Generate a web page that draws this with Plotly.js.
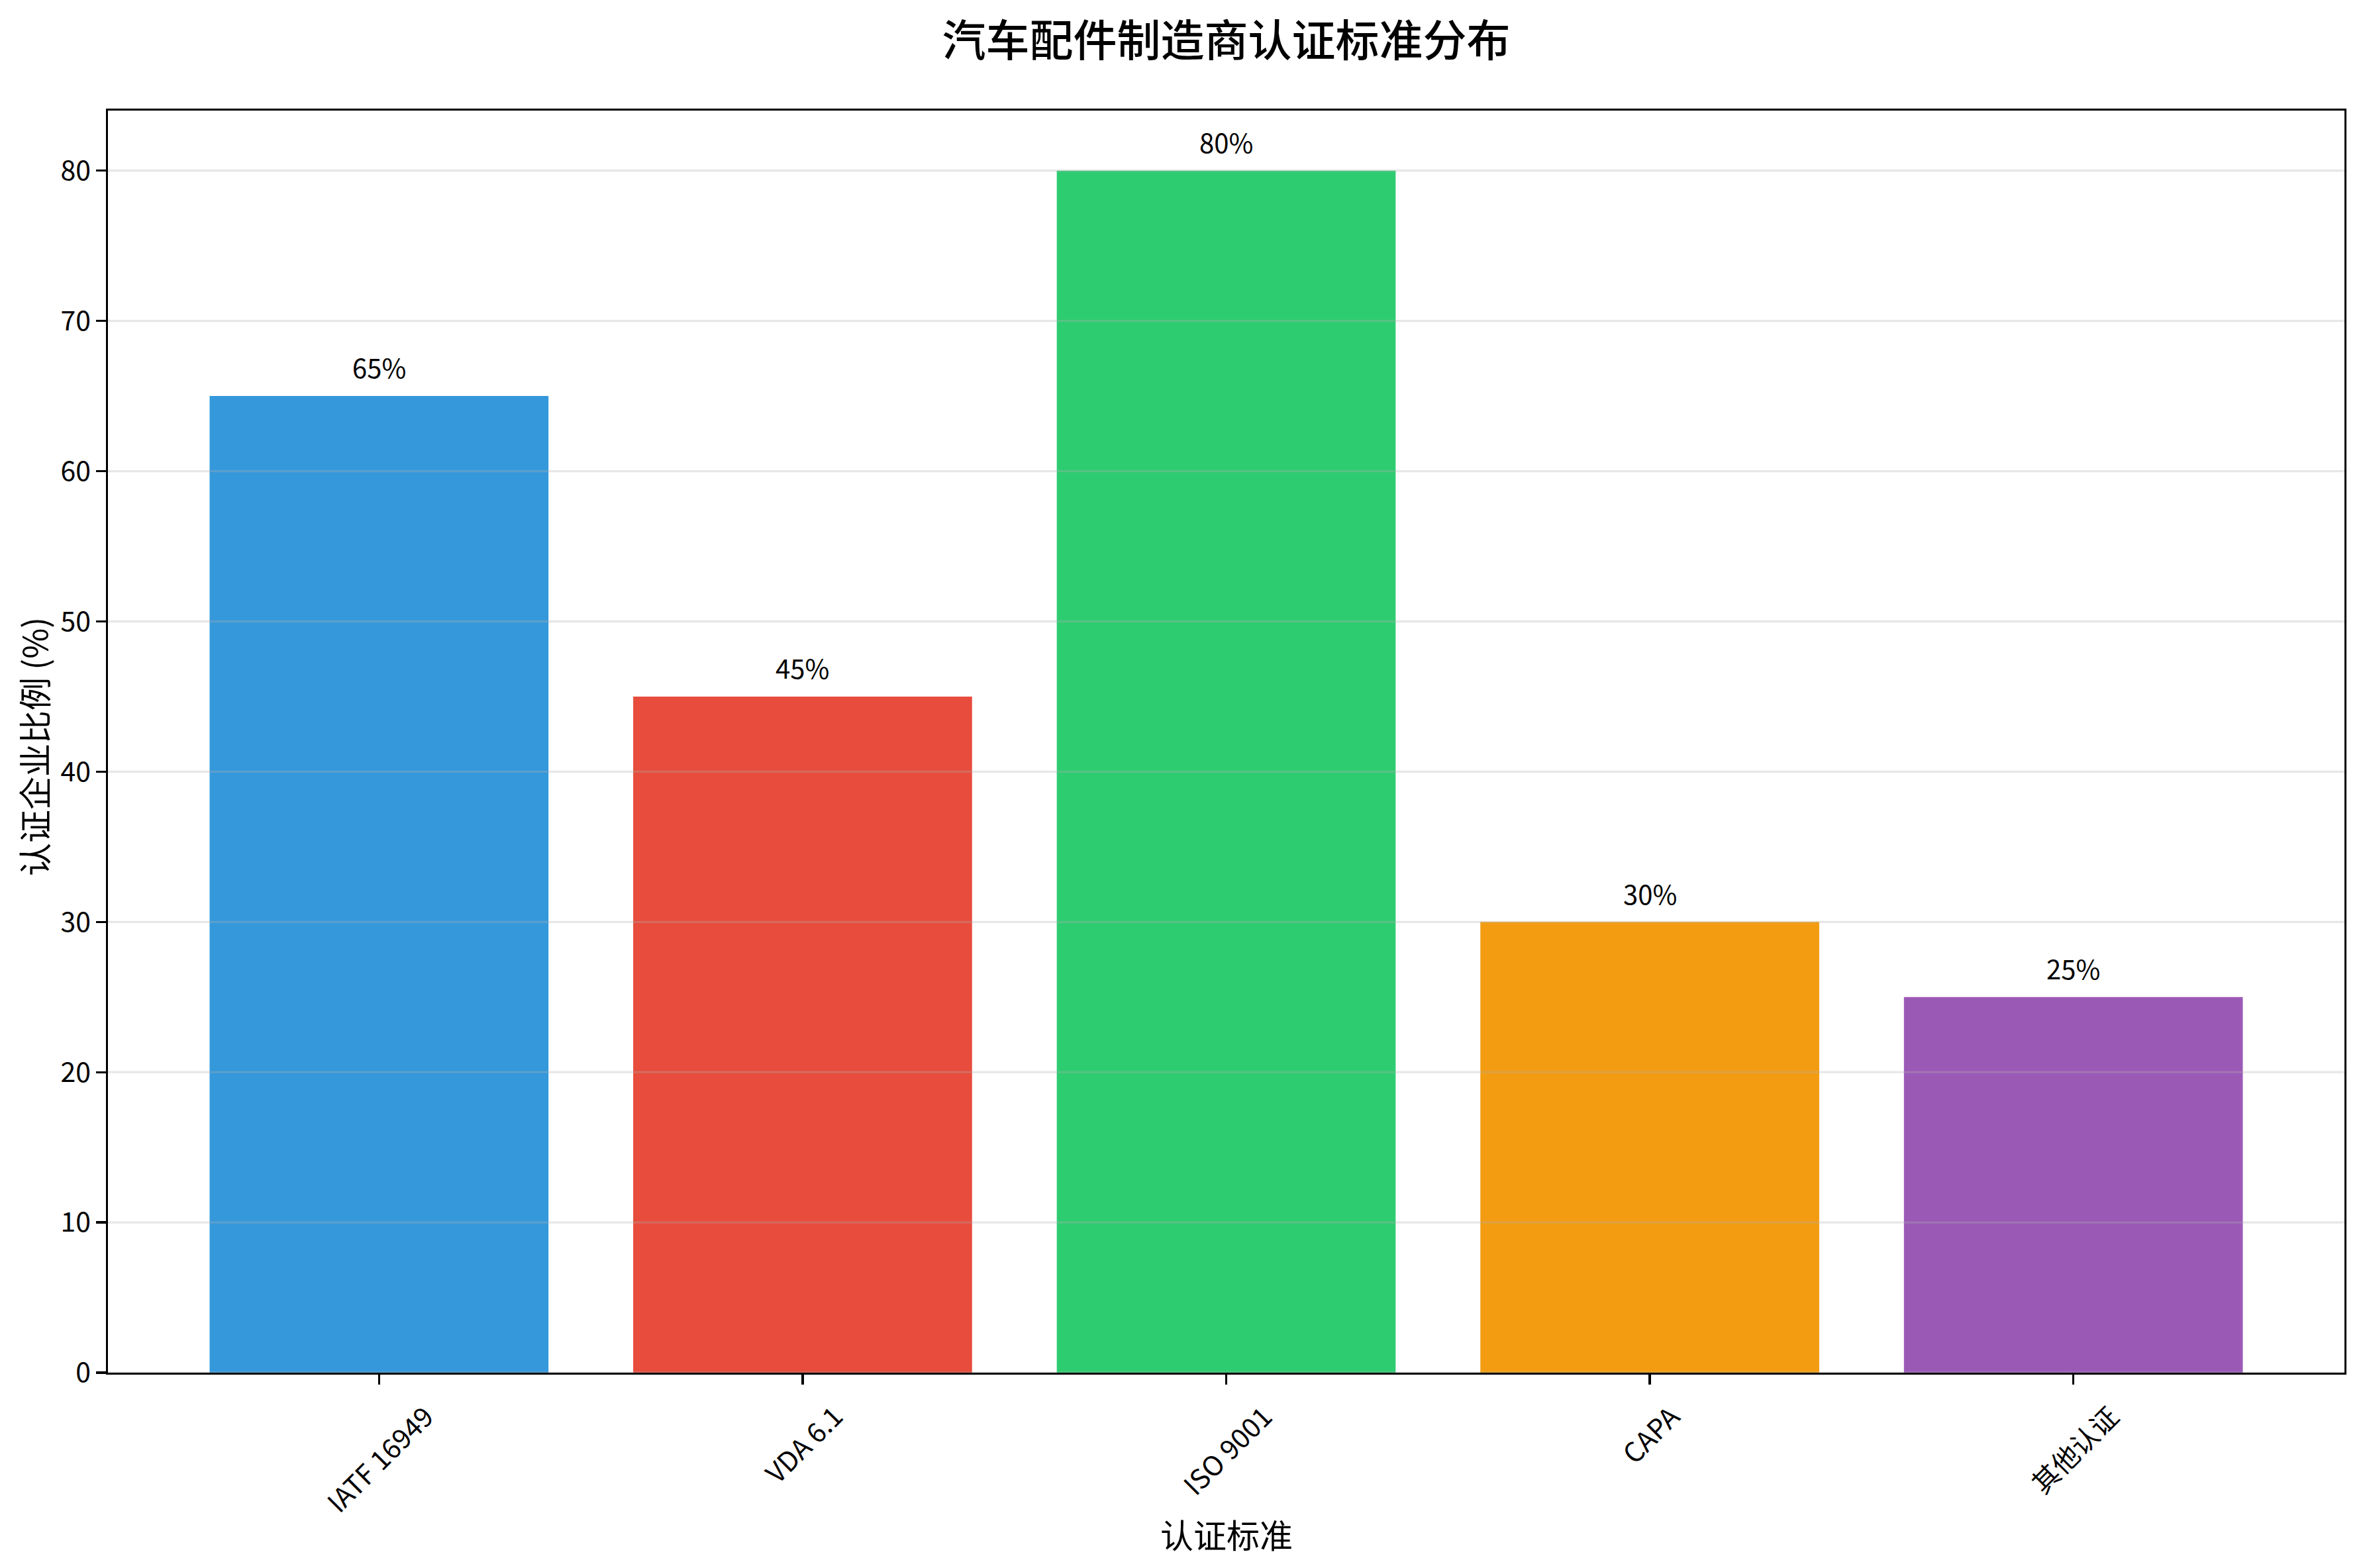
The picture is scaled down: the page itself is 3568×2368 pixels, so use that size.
<!DOCTYPE html>
<html>
<head>
<meta charset="utf-8">
<script src="https://cdn.plot.ly/plotly-3.0.1.min.js"></script>
<style>
  html, body { margin: 0; padding: 0; background: #fff; }
  #chart { width: 3568px; height: 2368px; }
</style>
</head>
<body>
<div id="chart"></div>
<script>
// chart data
const standards = ['IATF 16949', 'VDA 6.1', 'ISO 9001', 'CAPA', '其他认证'];
const shares = [65, 45, 80, 30, 25];
const barColors = ['#3498db', '#e74c3c', '#2ecc71', '#f39c12', '#9b59b6'];
const yTicks = [0, 10, 20, 30, 40, 50, 60, 70, 80];

const FONT = '"Noto Sans CJK SC", "Noto Sans", sans-serif';

let bars = {
  x: standards,
  y: shares,
  type: 'bar',
  marker: { color: barColors, line: { width: 0 } },
  hoverinfo: 'x+y'
};

// value labels sit one unit above each bar
let annotations = [];
for (let i = 0; i < standards.length; i++) {
  annotations.push({
    x: standards[i], y: shares[i] + 1,
    xref: 'x', yref: 'y',
    text: shares[i] + '%',
    showarrow: false,
    xanchor: 'center', yanchor: 'bottom',
    yshift: -9,
    borderpad: 0,
    font: { family: FONT, size: 40, color: '#000' }
  });
  // rotated category labels, centred under each tick like matplotlib
  annotations.push({
    x: standards[i], y: 0,
    xref: 'x', yref: 'paper',
    text: standards[i],
    showarrow: false,
    textangle: -45,
    xanchor: 'center', yanchor: 'top',
    yshift: -34,
    borderpad: 0,
    font: { family: FONT, size: 41, color: '#000' }
  });
}

// axis titles
annotations.push({
  x: 0.5, y: -0.1275, xref: 'paper', yref: 'paper',
  text: '认证标准', showarrow: false,
  xanchor: 'center', yanchor: 'middle',
  font: { family: FONT, size: 50, color: '#000' }
});
annotations.push({
  x: -0.0335, y: 0.4963, xref: 'paper', yref: 'paper',
  text: '认证企业比例 (%)', showarrow: false, textangle: -90,
  xanchor: 'center', yanchor: 'middle',
  font: { family: FONT, size: 50, color: '#000' }
});

// grid lines are drawn over the bars in the original, so use shapes
let shapes = yTicks.map(v => ({
  type: 'line', layer: 'above',
  xref: 'paper', x0: 0, x1: 1,
  yref: 'y', y0: v, y1: v,
  line: { color: 'rgba(176,176,176,0.3)', width: 3.3 }
}));

let layout = {
  width: 3568,
  height: 2368,
  margin: { l: 163, r: 28, t: 167, b: 295 },
  paper_bgcolor: '#fff',
  plot_bgcolor: '#fff',
  showlegend: false,
  bargap: 0.2,
  title: {
    text: '汽车配件制造商认证标准分布',
    font: { family: FONT, size: 66, color: '#000', weight: 500 },
    x: 0.5, xref: 'paper', xanchor: 'center',
    y: 0.9738, yref: 'container', yanchor: 'middle'
  },
  xaxis: {
    type: 'category',
    range: [-0.64, 4.64],
    showgrid: false,
    zeroline: false,
    showline: true, mirror: true,
    linecolor: '#000', linewidth: 3.3,
    ticks: 'outside', ticklen: 14.6, tickwidth: 3.3, tickcolor: '#000',
    showticklabels: false
  },
  yaxis: {
    range: [0, 84],
    tickmode: 'array',
    tickvals: yTicks,
    ticktext: yTicks.map(String),
    showgrid: false,
    zeroline: false,
    showline: true, mirror: true,
    linecolor: '#000', linewidth: 3.3,
    ticks: 'outside', ticklen: 14.6, tickwidth: 3.3, tickcolor: '#000',
    tickfont: { family: FONT, size: 41, color: '#000' }
  },
  annotations: annotations,
  shapes: shapes
};

Plotly.newPlot('chart', [bars], layout, { staticPlot: true });
</script>
</body>
</html>
